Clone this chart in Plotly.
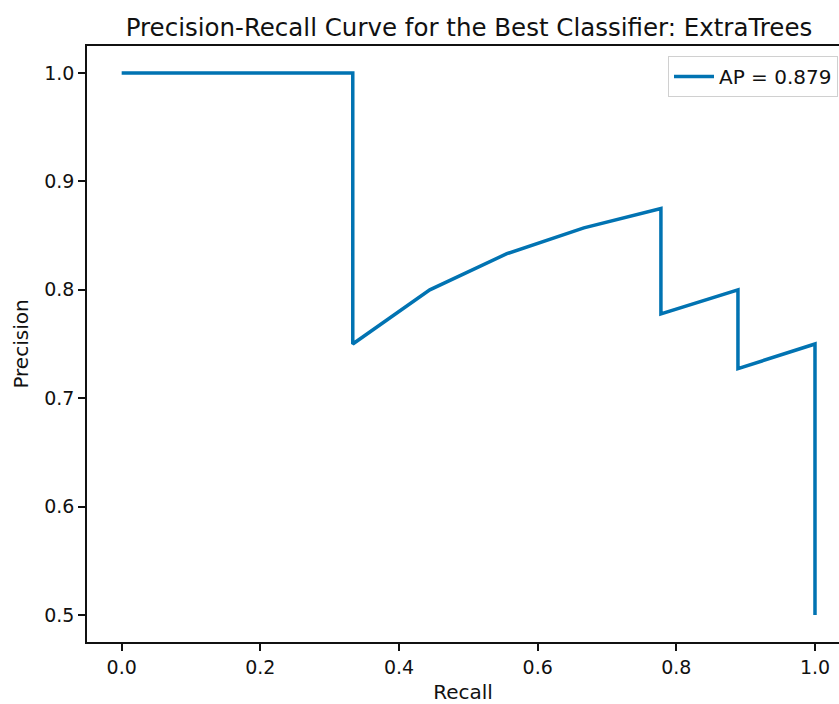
import plotly.graph_objects as go

recall = [0.0, 1/9, 2/9, 3/9, 3/9, 4/9, 5/9, 6/9, 7/9, 7/9, 8/9, 8/9, 1.0, 1.0]
precision = [1.0, 1.0, 1.0, 1.0, 3/4, 4/5, 5/6, 6/7, 7/8, 7/9, 8/10, 8/11, 9/12, 9/18]
label = "AP = 0.879"
title = "Precision-Recall Curve for the Best Classifier: ExtraTrees"
x_ticks = [0.0, 0.2, 0.4, 0.6, 0.8, 1.0]
y_ticks = [0.5, 0.6, 0.7, 0.8, 0.9, 1.0]

FONT = "DejaVu Sans"
W, H = 839, 704
L, T, B = 87, 46, 62
PW, PH = W - L, H - T - B

fig = go.Figure()
fig.add_trace(go.Scatter(x=recall, y=precision, mode="lines", name=label,
                         line=dict(color="#0173B2", width=3.5), showlegend=True))

fig.update_layout(
    width=W, height=H,
    margin=dict(l=L, r=0, t=T, b=B),
    paper_bgcolor="white", plot_bgcolor="white",
    font=dict(family=FONT, size=19, color="#111111"),
    title=dict(text=title, x=(469 - L) / PW, xref="paper", xanchor="center",
               y=1 - 27 / H, yanchor="middle", font=dict(size=24.5, family=FONT, color="#111111")),
    showlegend=True,
    legend=dict(x=1 - 1 / PW, xanchor="right", y=1 - 10 / PH, yanchor="top",
                bordercolor="#d0d0d0", borderwidth=1, bgcolor="rgba(255,255,255,0.8)",
                font=dict(size=20, family=FONT), itemwidth=40),
)
fig.update_xaxes(range=[-0.05, (W - 122) / 693], tickvals=x_ticks,
                 ticktext=[f"{v:.1f}" for v in x_ticks],
                 showgrid=False, zeroline=False, showline=True, linecolor="#111111",
                 linewidth=1.5, mirror=True, ticks="outside", ticklen=7, tickcolor="#111111",
                 tickwidth=1.5,
                 title=dict(text="Recall", standoff=8, font=dict(size=20)))
fig.update_yaxes(range=[0.475, 1.025], tickvals=y_ticks,
                 ticktext=[f"{v:.1f}" for v in y_ticks],
                 showgrid=False, zeroline=False, showline=True, linecolor="#111111",
                 linewidth=1.5, mirror=False, ticks="outside", ticklen=7, tickcolor="#111111",
                 tickwidth=1.5,
                 title=dict(text="Precision", standoff=10, font=dict(size=20)))

fig.write_html("out.html")
